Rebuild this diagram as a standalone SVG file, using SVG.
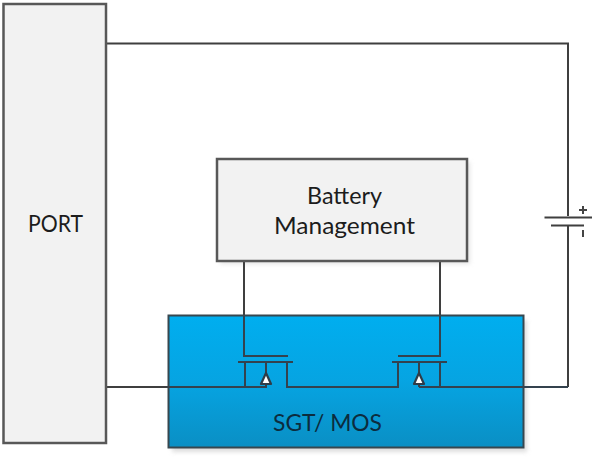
<svg xmlns="http://www.w3.org/2000/svg" width="598" height="458" viewBox="0 0 598 458">
<style>
.box{stroke:#585858;stroke-width:2.500}
.grey{fill:#f2f2f2}
.wire{fill:none;stroke:#34424e;stroke-width:2}
.w2{fill:none;stroke:#3f3f3f;stroke-width:2}
.t{font-family:Lato,"Liberation Sans",sans-serif;font-size:23px;fill:#1c1c1c;text-anchor:middle}
.arr{fill:#fff;stroke:#2f3c48;stroke-width:2.200;stroke-linejoin:round}
</style>
<defs>
<linearGradient id="g" x1="0" y1="0" x2="0" y2="1">
<stop offset="0" stop-color="#00aeef"/><stop offset="0.5" stop-color="#06a4e2"/><stop offset="1" stop-color="#0a8fc4"/>
</linearGradient>
<filter id="s" x="-5%" y="-5%" width="110%" height="110%"><feGaussianBlur stdDeviation="2"/></filter>
</defs>
<rect x="0" y="0" width="598" height="458" fill="#fff"/>
<rect x="172" y="320" width="355" height="132" fill="#c8c8c8" opacity="0.6" filter="url(#s)"/>
<rect x="220" y="162" width="250" height="102" fill="#c8c8c8" opacity="0.5" filter="url(#s)"/>
<g id="connectors-back">
<path class="w2" d="M106 43.500H568V216"/>
<path class="w2" d="M568 226V387"/>
<path class="w2" d="M244 262V316M440 262V316"/>
<path class="w2" d="M106 387H168"/>
<path class="w2" d="M544.500 217.500H592M551 225.500H584"/>
<path d="M579 210H587M583 206V214M583 230V237" fill="none" stroke="#444" stroke-width="2"/>
</g>
<g id="port"><rect class="box grey" x="3.500" y="4" width="102.500" height="439"/><text class="t" x="55.500" y="232" textLength="55" lengthAdjust="spacingAndGlyphs">PORT</text></g>
<g id="battery-management"><rect class="box grey" x="217" y="159" width="250" height="102"/><text class="t" x="344.500" y="204" textLength="75" lengthAdjust="spacingAndGlyphs">Battery</text><text class="t" x="344.500" y="234" textLength="141" lengthAdjust="spacingAndGlyphs">Management</text></g>
<g id="sgt-mos"><rect x="168.500" y="315.500" width="355" height="132" fill="url(#g)" stroke="#37474f" stroke-width="2"/><text class="t" x="327.500" y="431" textLength="109" lengthAdjust="spacingAndGlyphs" style="fill:#0c2c3e">SGT/ MOS</text></g>
<g id="connectors">
<path class="wire" d="M244 316V356H288"/>
<path class="wire" d="M440 316V356H398"/>
<path class="wire" d="M238 362H293M245 362V387M168 387H266V362M287 362V387H398V362M392 362H447M419 362V387M419 387H568M440 362V387"/>
<path class="arr" d="M266 373L271 384H261Z"/>
<path class="arr" d="M419 373L424 384H414Z"/>
</g>
</svg>
